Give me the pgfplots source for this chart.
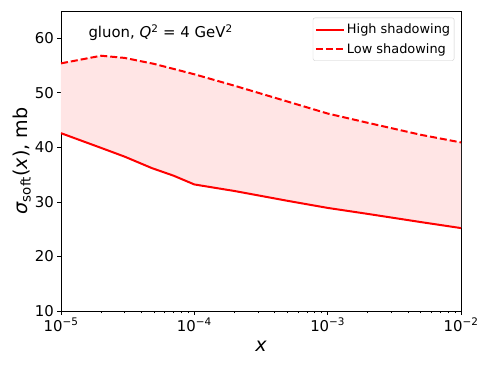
\documentclass[border=0pt]{standalone}
\usepackage{fontspec}
\setmainfont{DejaVu Sans}
\usepackage{pgfplots}
\usepackage{pgfplotstable}
\pgfplotsset{compat=1.18}
\usepgfplotslibrary{fillbetween}
\definecolor{bandfill}{RGB}{255,229,229}
\definecolor{legframe}{RGB}{204,204,204}

% high shadowing (solid)
\pgfplotstableread{
x y
1e-5 42.6
2e-5 39.9
3e-5 38.3
4.8e-5 36.2
7e-5 34.8
8e-5 34.2
1e-4 33.2
2e-4 32.0
5e-4 30.2
1e-3 28.9
2e-3 27.8
5e-3 26.3
1e-2 25.2
}\highshad

% low shadowing (dashed)
\pgfplotstableread{
x y
1e-5 55.4
2e-5 56.8
3e-5 56.4
5e-5 55.3
1e-4 53.4
2e-4 51.3
5e-4 48.4
1e-3 46.2
2e-3 44.5
5e-3 42.3
1e-2 40.9
}\lowshad

\begin{document}
\begin{tikzpicture}
\begin{axis}[
    scale only axis,
    width=400pt, height=300pt,
    xmode=log,
    xmin=1e-5, xmax=1e-2,
    ymin=10, ymax=65,
    xtick={1e-5,1e-4,1e-3,1e-2},
    xticklabels={10\textsuperscript{−5},10\textsuperscript{−4},10\textsuperscript{−3},10\textsuperscript{−2}},
    ytick={10,20,30,40,50,60},
    tick align=outside,
    xtick pos=bottom, ytick pos=left,
    major tick length=3.7pt, minor tick length=2.1pt,
    every tick/.style={black, line width=0.8pt},
    axis line style={line width=0.85pt},
    /pgf/number format/assume math mode=true,
    tick label style={font=\fontsize{14.9}{17}\selectfont},
    label style={font=\fontsize{19.1}{22}\selectfont},
    xlabel={\textit{x}},
    ylabel={\textit{σ}\textsubscript{soft}(\textit{x}), mb},
    xlabel style={at={(axis description cs:0.5,-0.119)}, anchor=center},
    ylabel style={at={(axis description cs:-0.0975,0.5)}, anchor=center},
    legend style={at={(rel axis cs:1,1)}, anchor=north east,
        xshift=-6.7pt, yshift=-6.7pt, draw=legframe, rounded corners=2pt,
        fill=white, fill opacity=0.8, text opacity=1,
        inner xsep=2pt, inner ysep=4pt, row sep=4pt,
        font=\fontsize{12.9}{15}\selectfont},
    legend cell align=left,
    legend image code/.code={\draw[#1] (0pt,0pt) -- (28pt,0pt);},
]
\addplot[name path=high, red, line width=2pt] table {\highshad};
\addplot[name path=low, red, line width=2pt, dash pattern=on 7pt off 3pt] table {\lowshad};
\addplot[bandfill, forget plot] fill between[of=high and low];
\legend{High shadowing, Low shadowing}
\node[anchor=west, font=\fontsize{14.9}{17}\selectfont] at (rel axis cs:0.06,0.927)
    {gluon, \textit{Q}\textsuperscript{2} = 4 GeV\textsuperscript{2}};
\coordinate (bl) at (rel axis cs:0,0);
\coordinate (tr) at (rel axis cs:1,1);
\end{axis}
\pgfresetboundingbox
\path[use as bounding box] (bl) ++(-61pt,-57pt) rectangle ([shift={(29pt,11pt)}]tr);
\end{tikzpicture}
\end{document}
